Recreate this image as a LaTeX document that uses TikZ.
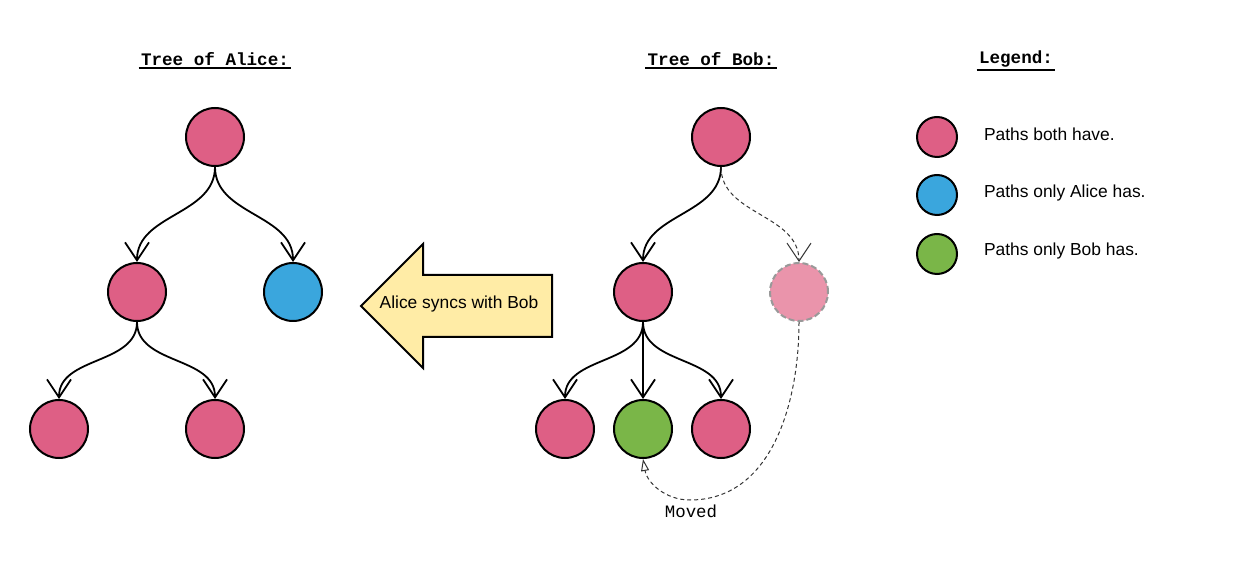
\documentclass[tikz,border=0pt]{standalone}
\usepackage{fontspec}
\setmainfont{Liberation Sans}
\setmonofont{Liberation Mono}
\usetikzlibrary{arrows.meta}

\definecolor{bothpink}{HTML}{DE5F85}
\definecolor{aliceblue}{HTML}{3AA6DD}
\definecolor{bobgreen}{HTML}{7AB648}
\definecolor{ghostpink}{HTML}{EA94AB}
\definecolor{syncyellow}{HTML}{FFECA6}

\begin{document}
\begin{tikzpicture}[x=0.5pt,y=-0.5pt]
    \tikzset{dot/.style= {draw, circle
    , line width=1pt
    , minimum size=29pt
    , inner sep=0pt
      }
    , both/.style={dot, fill=bothpink}
    , alice/.style={dot, fill=aliceblue}
    , bob/.style={dot, fill=bobgreen}
    , ghost/.style={dot, fill=ghostpink, draw=black!40, dash pattern=on 3pt off 1.5pt}
    , legdot/.style={minimum size=20pt}
    , title/.style={font=\fontsize{8.8}{10}\ttfamily\bfseries, inner sep=1pt}
    , label/.style={font=\fontsize{8.7}{10}\selectfont}
    , edge/.style={-{Straight Barb[length=9pt,width=12pt]}, line width=0.9pt}
    , moveedge/.style={line width=0.5pt, black!80, dash pattern=on 2pt off 1.5pt}
    }

\useasboundingbox (0,0) rectangle (1242,571);

% titles
\node [title] (talice) at (215,59) {Tree of Alice:};
\node [title] (tbob) at (711,59) {Tree of Bob:};
\node [title] (tlegend) at (1016,59) {Legend:};
\foreach \t in {talice,tbob,tlegend}
  \draw [line width=1pt] (\t.south west) -- (\t.south east);

% tree of alice
\node [both] (alice0) at (215,137) {};
\node [both] (alice1) at (137,292) {};
\node [alice] (alice2) at (293,292) {};
\node [both] (alice3) at (59,429) {};
\node [both] (alice4) at (215,429) {};

\path [edge]
  (alice0.south) edge [out=-90, in=90] (alice1.north)
  (alice0.south) edge [out=-90, in=90] (alice2.north)
  (alice1.south) edge [out=-90, in=90] (alice3.north)
  (alice1.south) edge [out=-90, in=90] (alice4.north);

% sync arrow
\draw [fill=syncyellow, line width=1pt]
  (361,306) -- (423,244) -- (423,275) -- (552,275) -- (552,337) -- (423,337) -- (423,368) -- cycle;
\node [label] (sync) at (459,304) {Alice syncs with Bob};

% tree of bob
\node [both] (bob0) at (721,137) {};
\node [both] (bob1) at (643,292) {};
\node [ghost] (bob2) at (799,292) {};
\node [both] (bob3) at (565,429) {};
\node [bob] (bob4) at (643,429) {};
\node [both] (bob5) at (721,429) {};

\path [edge]
  (bob0.south) edge [out=-90, in=90] (bob1.north)
  (bob1.south) edge [out=-90, in=90] (bob3.north)
  (bob1.south) edge (bob4.north)
  (bob1.south) edge [out=-90, in=90] (bob5.north);

\draw [moveedge, -{Straight Barb[length=9pt,width=12pt]}]
  (bob0.south) to [out=-90, in=90] (bob2.north);

\coordinate (bend) at (690,500);
\node [font=\fontsize{8.7}{10}\ttfamily] (moved) at (691,511) {Moved};
\draw [moveedge, -{Triangle[open,length=6pt,width=4pt]}]
  (bob2.south) to [out=-90, in=0] (bend) to [out=180, in=-80] (bob4.south);

% legend
\node [both, legdot] (leg0) at (937,137) {};
\node [alice, legdot] (leg1) at (937,195) {};
\node [bob, legdot] (leg2) at (937,254) {};
\node [label, anchor=west] (legt0) at (977,134) {Paths both have.};
\node [label, anchor=west] (legt1) at (977,193) {Paths only Alice has.};
\node [label, anchor=west] (legt2) at (977,251) {Paths only Bob has.};
\end{tikzpicture}
\end{document}
